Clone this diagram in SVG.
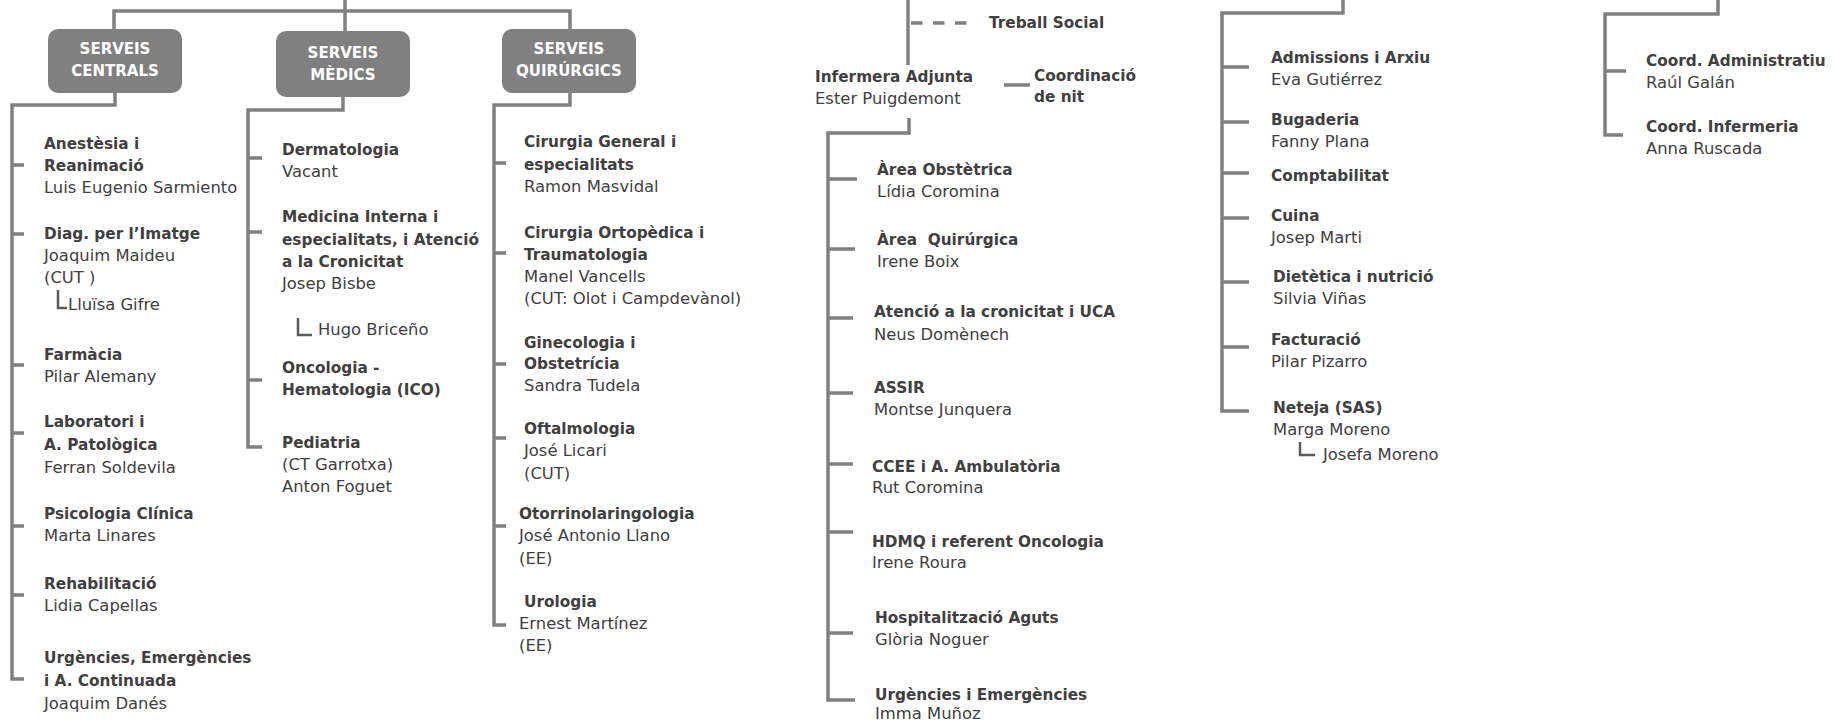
<svg xmlns="http://www.w3.org/2000/svg" width="1836" height="721" viewBox="0 0 1836 721">
<style>
.ln{stroke:#808080;stroke-width:3.5;fill:none}
.dash{stroke:#808080;stroke-width:3.5;fill:none;stroke-dasharray:11.5 10.5}
.sub{stroke:#5a5a5a;stroke-width:2.5;fill:none}
.bx{fill:#808080}
.bt{font-family:"DejaVu Sans",sans-serif;font-weight:bold;font-size:15px;fill:#ffffff;text-anchor:middle}
.b{font-family:"DejaVu Sans",sans-serif;font-weight:bold;font-size:15.3px;fill:#404040}
.r{font-family:"DejaVu Sans",sans-serif;font-size:16.4px;fill:#404040}
.pre{white-space:pre}
</style>
<rect width="1836" height="721" fill="#ffffff"/>
<g id="connectors">
<path class="ln" d="M345,0V11M114,29V11H570V29M345,11V31"/>
<path class="ln" d="M115,93V105H12V679H24M12,165H24M12,234H24M12,365H24M12,433H24M12,526H24M12,595H24"/>
<path class="ln" d="M343,97V110H248V447H262M248,158H262M248,232H262M248,380H262"/>
<path class="ln" d="M570,93V105H494V625H506M494,163H506M494,253H506M494,364H506M494,438H506M494,526H506"/>
<path class="ln" d="M908,0V65"/>
<path class="dash" d="M911,23H970"/>
<path class="ln" d="M1004,85H1030"/>
<path class="ln" d="M909,118V133H828V700H855M828,179H857M828,249H855M828,318H853M828,393H853M828,464H853M828,532H853M828,633H853"/>
<path class="ln" d="M1343,0V13H1222V411H1249M1222,67H1249M1222,122H1249M1222,173H1249M1222,218H1249M1222,282H1249M1222,347H1249"/>
<path class="ln" d="M1718,0V14H1605V135H1623M1605,71H1626"/>
<path class="sub" d="M58,290V308H67"/>
<path class="sub" d="M298,318V335H312"/>
<path class="sub" d="M1300,442V455H1315"/>
</g>
<g id="box-serveis-centrals">
<rect class="bx" x="48" y="29" width="134" height="64" rx="10"/>
<text class="bt" x="115" y="54">SERVEIS</text>
<text class="bt" x="115" y="76">CENTRALS</text>
</g>
<g id="box-serveis-medics">
<rect class="bx" x="276" y="31" width="134" height="66" rx="10"/>
<text class="bt" x="343" y="58">SERVEIS</text>
<text class="bt" x="343" y="80">MÈDICS</text>
</g>
<g id="box-serveis-quirurgics">
<rect class="bx" x="502" y="29" width="134" height="64" rx="10"/>
<text class="bt" x="569" y="54">SERVEIS</text>
<text class="bt" x="569" y="76">QUIRÚRGICS</text>
</g>
<g id="anestesia"><text class="b" x="44" y="149">Anestèsia i</text><text class="b" x="44" y="171">Reanimació</text><text class="r" x="44" y="193">Luis Eugenio Sarmiento</text></g>
<g id="diag"><text class="b" x="44" y="239">Diag. per l’Imatge</text><text class="r" x="44" y="261">Joaquim Maideu</text><text class="r" x="44" y="283">(CUT )</text><text class="r" x="68" y="310">Lluïsa Gifre</text></g>
<g id="farmacia"><text class="b" x="44" y="360">Farmàcia</text><text class="r" x="44" y="382">Pilar Alemany</text></g>
<g id="laboratori"><text class="b" x="44" y="427">Laboratori i</text><text class="b" x="44" y="450">A. Patològica</text><text class="r" x="44" y="473">Ferran Soldevila</text></g>
<g id="psicologia"><text class="b" x="44" y="519">Psicologia Clínica</text><text class="r" x="44" y="541">Marta Linares</text></g>
<g id="rehabilitacio"><text class="b" x="44" y="589">Rehabilitació</text><text class="r" x="44" y="611">Lidia Capellas</text></g>
<g id="urgencies-c"><text class="b" x="44" y="663">Urgències, Emergències</text><text class="b" x="44" y="686">i A. Continuada</text><text class="r" x="44" y="709">Joaquim Danés</text></g>
<g id="dermatologia"><text class="b" x="282" y="155">Dermatologia</text><text class="r" x="282" y="177">Vacant</text></g>
<g id="medicina"><text class="b" x="282" y="222">Medicina Interna i</text><text class="b" x="282" y="245">especialitats, i Atenció</text><text class="b" x="282" y="267">a la Cronicitat</text><text class="r" x="282" y="289">Josep Bisbe</text><text class="r" x="318" y="335">Hugo Briceño</text></g>
<g id="oncologia"><text class="b" x="282" y="373">Oncologia -</text><text class="b" x="282" y="395">Hematologia (ICO)</text></g>
<g id="pediatria"><text class="b" x="282" y="448">Pediatria</text><text class="r" x="282" y="470">(CT Garrotxa)</text><text class="r" x="282" y="492">Anton Foguet</text></g>
<g id="cirurgia-general"><text class="b" x="524" y="147">Cirurgia General i</text><text class="b" x="524" y="170">especialitats</text><text class="r" x="524" y="192">Ramon Masvidal</text></g>
<g id="cirurgia-ortopedica"><text class="b" x="524" y="238">Cirurgia Ortopèdica i</text><text class="b" x="524" y="260">Traumatologia</text><text class="r" x="524" y="282">Manel Vancells</text><text class="r" x="524" y="304">(CUT: Olot i Campdevànol)</text></g>
<g id="ginecologia"><text class="b" x="524" y="348">Ginecologia i</text><text class="b" x="524" y="369">Obstetrícia</text><text class="r" x="524" y="391">Sandra Tudela</text></g>
<g id="oftalmologia"><text class="b" x="524" y="434">Oftalmologia</text><text class="r" x="524" y="456">José Licari</text><text class="r" x="524" y="479">(CUT)</text></g>
<g id="otorrino"><text class="b" x="519" y="519">Otorrinolaringologia</text><text class="r" x="519" y="541">José Antonio Llano</text><text class="r" x="519" y="564">(EE)</text></g>
<g id="urologia"><text class="b" x="524" y="607">Urologia</text><text class="r" x="519" y="629">Ernest Martínez</text><text class="r" x="519" y="651">(EE)</text></g>
<g id="treball-social"><text class="b" x="989" y="28">Treball Social</text></g>
<g id="infermera-adjunta"><text class="b" x="815" y="82">Infermera Adjunta</text><text class="r" x="815" y="104">Ester Puigdemont</text></g>
<g id="coordinacio-nit"><text class="b" x="1034" y="81">Coordinació</text><text class="b" x="1034" y="102">de nit</text></g>
<g id="area-obstetrica"><text class="b" x="877" y="175">Àrea Obstètrica</text><text class="r" x="877" y="197">Lídia Coromina</text></g>
<g id="area-quirurgica"><text class="b pre" x="877" y="245">Àrea  Quirúrgica</text><text class="r" x="877" y="267">Irene Boix</text></g>
<g id="atencio-cronicitat"><text class="b" x="874" y="317">Atenció a la cronicitat i UCA</text><text class="r" x="874" y="340">Neus Domènech</text></g>
<g id="assir"><text class="b" x="874" y="393">ASSIR</text><text class="r" x="874" y="415">Montse Junquera</text></g>
<g id="ccee"><text class="b" x="872" y="472">CCEE i A. Ambulatòria</text><text class="r" x="872" y="493">Rut Coromina</text></g>
<g id="hdmq"><text class="b" x="872" y="547">HDMQ i referent Oncologia</text><text class="r" x="872" y="568">Irene Roura</text></g>
<g id="hospitalitzacio"><text class="b" x="875" y="623">Hospitalització Aguts</text><text class="r" x="875" y="645">Glòria Noguer</text></g>
<g id="urgencies-i"><text class="b" x="875" y="700">Urgències i Emergències</text><text class="r" x="875" y="719">Imma Muñoz</text></g>
<g id="admissions"><text class="b" x="1271" y="63">Admissions i Arxiu</text><text class="r" x="1271" y="85">Eva Gutiérrez</text></g>
<g id="bugaderia"><text class="b" x="1271" y="125">Bugaderia</text><text class="r" x="1271" y="147">Fanny Plana</text></g>
<g id="comptabilitat"><text class="b" x="1271" y="181">Comptabilitat</text></g>
<g id="cuina"><text class="b" x="1271" y="221">Cuina</text><text class="r" x="1271" y="243">Josep Marti</text></g>
<g id="dietetica"><text class="b" x="1273" y="282">Dietètica i nutrició</text><text class="r" x="1273" y="304">Silvia Viñas</text></g>
<g id="facturacio"><text class="b" x="1271" y="345">Facturació</text><text class="r" x="1271" y="367">Pilar Pizarro</text></g>
<g id="neteja"><text class="b" x="1273" y="413">Neteja (SAS)</text><text class="r" x="1273" y="435">Marga Moreno</text><text class="r" x="1323" y="460">Josefa Moreno</text></g>
<g id="coord-administratiu"><text class="b" x="1646" y="66">Coord. Administratiu</text><text class="r" x="1646" y="88">Raúl Galán</text></g>
<g id="coord-infermeria"><text class="b" x="1646" y="132">Coord. Infermeria</text><text class="r" x="1646" y="154">Anna Ruscada</text></g>
</svg>
